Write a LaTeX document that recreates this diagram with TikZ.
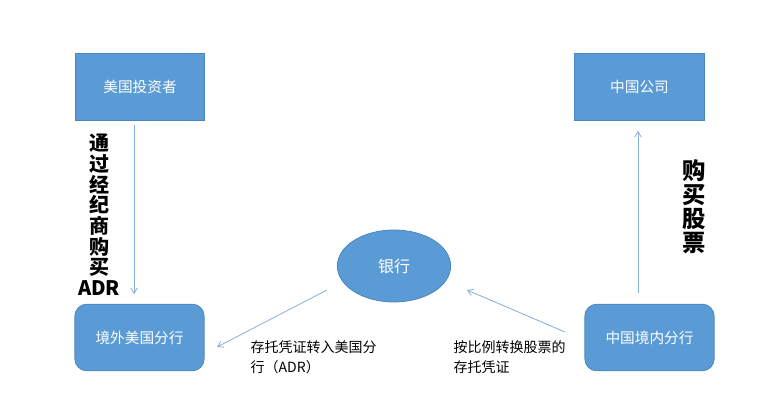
\documentclass[tikz,border=0pt]{standalone}
\usepackage{fontspec}
\setmainfont{Noto Sans CJK SC}
\usepackage{xcolor}
\usetikzlibrary{shapes.geometric, positioning, calc, arrows.meta}

\definecolor{boxblue}{HTML}{5B9BD5}
\definecolor{edgeblue}{HTML}{4A86C0}
\definecolor{linkblue}{HTML}{88AEDB}

\tikzset{
    sqbox/.style={rectangle, fill=boxblue, draw=edgeblue, line width=0.6pt,
        minimum width=97pt, minimum height=50pt, text=white, font=\fontsize{11}{12}\selectfont},
    rbox/.style={sqbox, rounded corners=9pt},
    link/.style={draw=linkblue, line width=0.6pt, -{Straight Barb[length=4pt,width=5pt]}},
    vlabel/.style={align=center, font=\bfseries\fontsize{15}{15.5}\selectfont},
    note/.style={align=left, font=\fontsize{10.5}{15}\selectfont}
}

\begin{document}
\begin{tikzpicture}[x=0.75pt, y=-0.75pt]

            \useasboundingbox (0,0) rectangle (766,416);

            % Boxes
            \node[sqbox] (investor) at (140, 87) {美国投资者};
            \node[sqbox] (company) at (639.5, 87) {中国公司};
            \node[rbox] (branchUS) at (139.5, 337.5) {境外美国分行};
            \node[rbox] (branchCN) at (649.5, 337.5) {中国境内分行};

            % Bank
            \node[ellipse, fill=boxblue, draw=edgeblue, line width=0.6pt,
                minimum width=85pt, minimum height=54pt, text=white,
                font=\fontsize{12}{13}\selectfont] (bank) at (394, 266) {银行};

            % Arrow ends
            \coordinate (usTop) at (134, 125);
            \coordinate (usBot) at (134, 294);
            \coordinate (cnBot) at (638, 293);
            \coordinate (cnTop) at (638, 131);
            \coordinate (bankL) at (327, 290);
            \coordinate (usIn) at (217, 347);
            \coordinate (cnOut) at (565, 332);
            \coordinate (bankR) at (467, 290);

            % Connectors
            \draw[link] (usTop) -- (usBot);
            \draw[link] (cnBot) -- (cnTop);
            \draw[link] (bankL) -- (usIn);
            \draw[link] (cnOut) -- (bankR);

            % Vertical labels
            \node[vlabel] (buyADR) at (99, 215) {通\\过\\经\\纪\\商\\购\\买\\ADR};
            \node[vlabel, font=\bfseries\fontsize{17.5}{18}\selectfont] (buyStock) at (694, 207) {购\\买\\股\\票};

            % Arrow notes
            \node[note, anchor=north west] (noteUS) at (246, 336) {存托凭证转入美国分\\行（ADR）};
            \node[note, anchor=north west] (noteCN) at (449, 336) {按比例转换股票的\\存托凭证};

\end{tikzpicture}
\end{document}
